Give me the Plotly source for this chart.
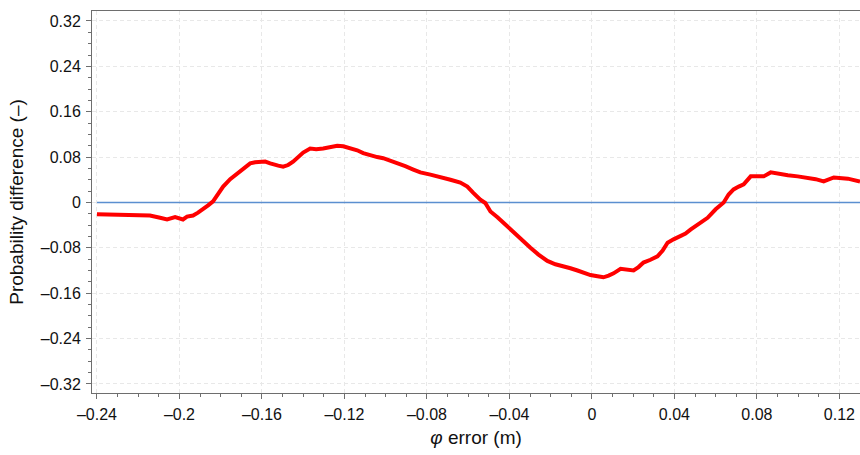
import plotly.graph_objects as go

# phi error (m) and probability difference
phi_err = [-0.2400, -0.2288, -0.2191, -0.2143, -0.2094, -0.2060, -0.2021, -0.1983, -0.1963, -0.1934,
           -0.1910, -0.1885, -0.1861, -0.1837, -0.1813, -0.1788, -0.1754, -0.1730, -0.1706, -0.1682,
           -0.1657, -0.1633, -0.1609, -0.1584, -0.1560, -0.1546, -0.1521, -0.1497, -0.1473, -0.1449,
           -0.1424, -0.1400, -0.1366, -0.1337, -0.1303, -0.1269, -0.1235, -0.1206, -0.1172, -0.1138,
           -0.1109, -0.1075, -0.1041, -0.1012, -0.0978, -0.0944, -0.0905, -0.0866, -0.0832, -0.0783,
           -0.0735, -0.0686, -0.0638, -0.0604, -0.0575, -0.0541, -0.0517, -0.0492, -0.0458, -0.0429,
           -0.0395, -0.0361, -0.0332, -0.0298, -0.0259, -0.0216, -0.0177, -0.0138, -0.0104, -0.0070,
           -0.0041, -0.0007, 0.0027, 0.0056, 0.0081, 0.0105, 0.0139, 0.0173, 0.0202, 0.0226,
           0.0250, 0.0284, 0.0318, 0.0343, 0.0367, 0.0396, 0.0430, 0.0454, 0.0478, 0.0517,
           0.0561, 0.0600, 0.0639, 0.0663, 0.0687, 0.0712, 0.0736, 0.0770, 0.0804, 0.0833,
           0.0867, 0.0906, 0.0950, 0.0998, 0.1047, 0.1085, 0.1124, 0.1173, 0.1241, 0.1300]
prob_diff = [-0.021, -0.022, -0.023, -0.023, -0.027, -0.030, -0.026, -0.030, -0.025, -0.023,
             -0.018, -0.012, -0.005, 0.002, 0.014, 0.028, 0.041, 0.048, 0.056, 0.063,
             0.069, 0.071, 0.072, 0.072, 0.069, 0.067, 0.065, 0.063, 0.066, 0.072,
             0.080, 0.088, 0.095, 0.094, 0.095, 0.097, 0.100, 0.099, 0.096, 0.092,
             0.087, 0.083, 0.080, 0.078, 0.074, 0.070, 0.064, 0.058, 0.053, 0.049,
             0.045, 0.040, 0.035, 0.028, 0.017, 0.005, -0.001, -0.016, -0.026, -0.036,
             -0.048, -0.060, -0.070, -0.080, -0.092, -0.103, -0.109, -0.112, -0.116, -0.120,
             -0.124, -0.128, -0.130, -0.132, -0.129, -0.125, -0.117, -0.119, -0.120, -0.114,
             -0.106, -0.101, -0.095, -0.085, -0.071, -0.065, -0.060, -0.055, -0.048, -0.039,
             -0.027, -0.012, 0.000, 0.014, 0.023, 0.028, 0.032, 0.046, 0.046, 0.046,
             0.053, 0.050, 0.048, 0.046, 0.044, 0.041, 0.037, 0.044, 0.042, 0.037]

zero_x = [-0.24, 0.13]
zero_y = [0, 0]

x_ticks = [-0.24, -0.2, -0.16, -0.12, -0.08, -0.04, 0, 0.04, 0.08, 0.12]
x_tick_text = ["–0.24", "–0.2", "–0.16", "–0.12", "–0.08", "–0.04", "0", "0.04", "0.08", "0.12"]
y_ticks = [-0.32, -0.24, -0.16, -0.08, 0, 0.08, 0.16, 0.24, 0.32]
y_tick_text = ["–0.32", "–0.24", "–0.16", "–0.08", "0", "0.08", "0.16", "0.24", "0.32"]

FONT = "Liberation Sans, Arial"

fig = go.Figure()
fig.add_trace(go.Scatter(x=zero_x, y=zero_y, mode="lines",
                         line=dict(color="#5b8fd0", width=1.5), hoverinfo="skip"))
fig.add_trace(go.Scatter(x=phi_err, y=prob_diff, mode="lines",
                         line=dict(color="#ff0000", width=4)))

axis_common = dict(
    showline=True, linecolor="#6e6e6e", linewidth=1, mirror=True,
    ticks="outside", ticklen=5, tickcolor="#6e6e6e",
    showgrid=True, gridcolor="#e8e8e8", griddash="4px,3px", gridwidth=1,
    zeroline=False, automargin=False, ticklabelstandoff=2,
    tickfont=dict(family=FONT, size=16, color="#111"),
)

fig.update_layout(
    width=860, height=455,
    margin=dict(l=92, r=0, t=11, b=62),
    paper_bgcolor="white", plot_bgcolor="white",
    showlegend=False,
    xaxis=dict(axis_common, range=[-0.2424, 0.130], tickvals=x_ticks, ticktext=x_tick_text,
               minor=dict(dtick=0.01, tick0=0, ticks="outside", ticklen=3, tickcolor="#6e6e6e", showgrid=False),
               title=dict(text="<i>φ</i> error (m)", font=dict(family=FONT, size=19, color="#111"), standoff=8)),
    yaxis=dict(axis_common, range=[-0.336, 0.3376], tickvals=y_ticks, ticktext=y_tick_text,
               minor=dict(dtick=0.02, tick0=0, ticks="outside", ticklen=3, tickcolor="#6e6e6e", showgrid=False),
               title=dict(text="Probability difference (–)", font=dict(family=FONT, size=19, color="#111"), standoff=12)),
)

fig.write_html("out.html", config={"displayModeBar": False},
               post_script="document.body.style.margin='0';document.body.style.overflow='hidden';")
